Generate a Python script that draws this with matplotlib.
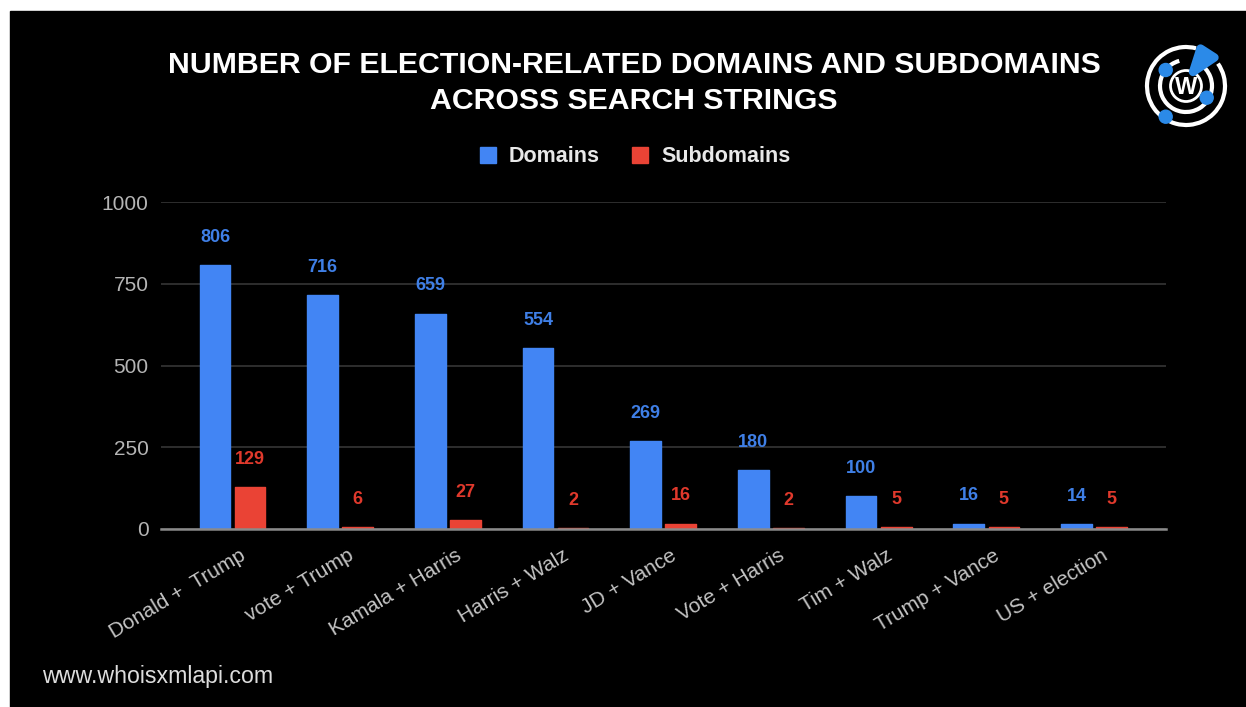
import matplotlib
matplotlib.use('Agg')
import matplotlib.pyplot as plt
from matplotlib.patches import Arc, Circle, Polygon, Rectangle
from matplotlib.transforms import ScaledTranslation

categories = ["Donald +  Trump", "vote + Trump", "Kamala + Harris", "Harris + Walz", "JD + Vance",
              "Vote + Harris", "Tim + Walz", "Trump + Vance", "US + election"]
domains = [806, 716, 659, 554, 269, 180, 100, 16, 14]
subdomains = [129, 6, 27, 2, 16, 2, 5, 5, 5]
yticks = [0, 250, 500, 750, 1000]

title = "NUMBER OF ELECTION-RELATED DOMAINS AND SUBDOMAINS\nACROSS SEARCH STRINGS"
website = "www.whoisxmlapi.com"

BLUE = '#4285f4'
RED = '#ea4335'
W, H = 1246, 707

plt.rcParams['font.family'] = ['Liberation Sans', 'DejaVu Sans']

fig = plt.figure(figsize=(W / 100, H / 100), dpi=100, facecolor='white')

# whole-figure axes in pixels, y pointing down, for the panel and the logo
bg = fig.add_axes([0, 0, 1, 1])
bg.set_xlim(0, W)
bg.set_ylim(H, 0)
bg.axis('off')
bg.add_patch(Rectangle((10, 11), W - 10, H - 11, color='black', zorder=0))

ax = fig.add_axes([161 / W, 1 - 529 / H, (1166 - 161) / W, (529 - 202) / H])
ax.set_facecolor('none')
ax.set_xlim(-0.664, 8.668)
ax.set_ylim(0, 1000)

x = list(range(len(categories)))
bar_w = 0.285
gap = 0.163
ax.bar([i - gap for i in x], domains, bar_w, color=BLUE, edgecolor=BLUE, linewidth=1, joinstyle='round', zorder=3)
ax.bar([i + gap for i in x], subdomains, bar_w, color=RED, edgecolor=RED, linewidth=1, joinstyle='round', zorder=3)

for i in x:
    ax.annotate(str(domains[i]), (i - gap, domains[i]), xytext=(0, 20), textcoords='offset points',
                ha='center', va='center', color='#3f7fe6', fontsize=13, fontweight='bold')
    ax.annotate(str(subdomains[i]), (i + gap, subdomains[i]), xytext=(0, 20), textcoords='offset points',
                ha='center', va='center', color='#e0392c', fontsize=13, fontweight='bold')

ax.set_yticks(yticks)
ax.set_yticklabels([str(v) for v in yticks], fontsize=15, color='#b5b5b5')
ax.set_xticks(x)
ax.set_xticklabels(categories, rotation=31, ha='right', rotation_mode='anchor', fontsize=15, color='#c4c4c4')
ax.tick_params(axis='both', length=0)
ax.tick_params(axis='y', pad=9)
ax.tick_params(axis='x', pad=12)
# rotated labels sit a little right of their ticks
for lab in ax.get_xticklabels():
    lab.set_transform(lab.get_transform() + ScaledTranslation(7 / 100, 0, fig.dpi_scale_trans))
ax.grid(axis='y', color='#2e2e2e', linewidth=1.4, zorder=0)
for name in ['top', 'right', 'left']:
    ax.spines[name].set_visible(False)
ax.spines['bottom'].set_color('#8a8a8a')
ax.spines['bottom'].set_linewidth(1.8)
ax.spines['bottom'].set_zorder(4)

bg.text(634, 83, title, color='white', fontsize=21.8, fontweight='bold', ha='center', va='center', linespacing=1.38)
bg.text(42, 676, website, color='#dddddd', fontsize=16.7, ha='left', va='center')

# legend
bg.add_patch(Rectangle((480, 147), 16, 16, color=BLUE))
bg.text(509, 156, "Domains", color='#e8e8e8', fontsize=15.5, fontweight='bold', ha='left', va='center')
bg.add_patch(Rectangle((632, 147), 16, 16, color=RED))
bg.text(661, 156, "Subdomains", color='#e8e8e8', fontsize=15.5, fontweight='bold', ha='left', va='center')

# logo: rings, W, dots and pointer
cx, cy = 1186, 86
LOGO_BLUE = '#2b8ae8'
bg.add_patch(Arc((cx, cy), 78, 78, theta1=-35, theta2=285, color='white', lw=3))
bg.add_patch(Arc((cx, cy), 52, 52, theta1=-60, theta2=255, color='white', lw=3))
bg.add_patch(Circle((cx, cy), 15.5, fill=False, edgecolor='white', lw=2))
bg.text(cx, cy + 1, "W", color='white', fontsize=17, fontweight='bold', ha='center', va='center')
for px, py in [(1165.7, 70), (1206.7, 97.7), (1165.7, 116.7)]:
    bg.add_patch(Circle((px, py), 6.5, color=LOGO_BLUE, zorder=5))
bg.add_patch(Polygon([(1200.5, 48.5), (1214.5, 57.5), (1193, 72)], closed=True, facecolor=LOGO_BLUE,
                     edgecolor=LOGO_BLUE, lw=6, joinstyle='round', zorder=5))

fig.savefig('out.png', dpi=100, facecolor='white')
